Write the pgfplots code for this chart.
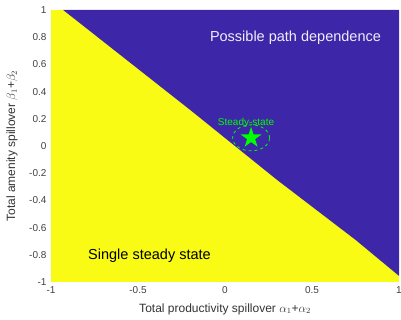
\documentclass[border=0pt]{standalone}
\usepackage{pgfplots}
\pgfplotsset{compat=1.18}
\usepackage{fontspec}
\setmainfont{Liberation Sans}
\definecolor{pblue}{RGB}{62,38,168}
\definecolor{pyellow}{RGB}{249,251,21}
\definecolor{sgreen}{RGB}{0,255,0}
\pgfdeclareplotmark{fstar}{%
  \pgfpathmoveto{\pgfpointpolar{90}{\pgfplotmarksize}}%
  \pgfpathlineto{\pgfpointpolar{126}{0.382\pgfplotmarksize}}%
  \pgfpathlineto{\pgfpointpolar{162}{\pgfplotmarksize}}%
  \pgfpathlineto{\pgfpointpolar{198}{0.382\pgfplotmarksize}}%
  \pgfpathlineto{\pgfpointpolar{234}{\pgfplotmarksize}}%
  \pgfpathlineto{\pgfpointpolar{270}{0.382\pgfplotmarksize}}%
  \pgfpathlineto{\pgfpointpolar{306}{\pgfplotmarksize}}%
  \pgfpathlineto{\pgfpointpolar{342}{0.382\pgfplotmarksize}}%
  \pgfpathlineto{\pgfpointpolar{18}{\pgfplotmarksize}}%
  \pgfpathlineto{\pgfpointpolar{54}{0.382\pgfplotmarksize}}%
  \pgfpathclose\pgfusepathqfill}
\begin{document}
\begin{tikzpicture}
\begin{axis}[
  scale only axis, width=348pt, height=272pt,
  xmin=-1, xmax=1, ymin=-1, ymax=1,
  axis background/.style={fill=pyellow},
  axis line style={draw=none}, tick style={draw=none},
  xtick={-1,-0.5,0,0.5,1},
  ytick={-1,-0.8,-0.6,-0.4,-0.2,0,0.2,0.4,0.6,0.8,1},
  /pgf/number format/assume math mode=true,
  ticklabel style={font=\fontsize{10}{12}\selectfont, text=black!75},
  xticklabel style={yshift=-1pt},
  yticklabel style={xshift=-1pt},
  xlabel={Total productivity spillover $\alpha_1$+$\alpha_2$},
  ylabel={Total amenity spillover $\beta_1$+$\beta_2$},
  label style={font=\fontsize{12}{14}\selectfont, text=black!80},
  xlabel style={at={(axis description cs:0.5,-0.099)}, anchor=center},
  ylabel style={at={(axis description cs:-0.112,0.5)}, anchor=center},
  clip=true,
]
\addplot[fill=pblue, draw=none] coordinates {
  (-0.93,1) (1,1) (1,-0.955) (0.75,-0.69) (0.3,-0.25) (-0.2,0.265) (-0.93,1)} -- cycle;
\addplot[only marks, mark=o, mark size=13pt, sgreen, mark options={xscale=1.42, dashed, line width=0.8pt}] coordinates {(0.15,0.06)};
\addplot[only marks, mark=fstar, mark size=11pt, sgreen] coordinates {(0.15,0.06)};
\node[text=sgreen, font=\fontsize{10}{12}\selectfont] at (axis cs:0.121,0.169) {Steady-state};
\node[text=white!92!pblue, font=\fontsize{14.5}{17}\selectfont] at (axis cs:0.405,0.794) {Possible path dependence};
\node[text=black, font=\fontsize{14.5}{17}\selectfont] at (axis cs:-0.434,-0.809) {Single steady state};
\end{axis}
\pgfresetboundingbox
\path[use as bounding box] ([shift={(-51pt,-38pt)}]current axis.south west) rectangle ([shift={(2pt,10pt)}]current axis.north east);
\end{tikzpicture}
\end{document}
